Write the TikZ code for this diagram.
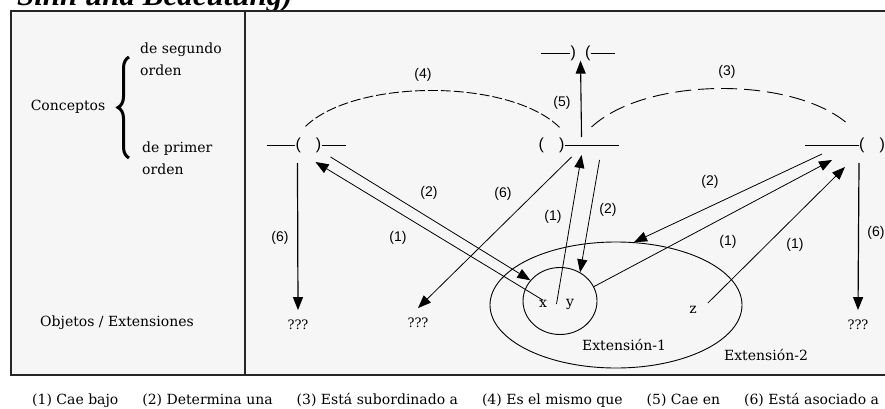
\documentclass[tikz,border=0pt]{standalone}
\usepackage{fontspec}
\setmainfont{DejaVu Serif}
\newfontfamily\labelfont{Liberation Sans}
\newfontfamily\headfont{Liberation Serif}
\usetikzlibrary{arrows.meta, calc, shapes.geometric, decorations.pathreplacing}
\definecolor{panel}{RGB}{246,246,246}

\tikzset{
  txt/.style={inner sep=0pt, font=\fontsize{14}{22}\selectfont},
  num/.style={inner sep=0pt, font=\labelfont\fontsize{14}{16}\selectfont},
  par/.style={inner sep=0pt, font=\labelfont\fontsize{16}{18}\selectfont},
  qm/.style={inner sep=0pt, outer sep=10pt, font=\fontsize{13}{15}\selectfont},
  arr/.style={-{Triangle[length=13pt,width=10pt]}, line width=0.8pt},
  ext/.style={draw, ellipse, inner sep=0pt, line width=0.9pt},
  sameas/.style={line width=0.9pt, dash pattern=on 10pt off 3pt},
  subord/.style={line width=0.9pt, dash pattern=on 16pt off 7pt},
}

\begin{document}
\begin{tikzpicture}[x=1pt, y=-1pt]
  \useasboundingbox (0,0) rectangle (885,409);
  \fill[white] (0,0) rectangle (885,409);
  \node[anchor=base east, inner sep=0pt, font=\headfont\bfseries\itshape\fontsize{31}{34}\selectfont] (title) at (293,6) {Sinn und Bedeutung)};
  \filldraw[fill=panel, draw=black!85, line width=1.3pt] (11,11) rectangle (905,375);
  \draw[black!85, line width=1.3pt] (245,11) -- (245,375);

  % left column
  \node[txt] (concepts) at (68,107) {Conceptos};
  \draw[line width=3pt, decorate, decoration={brace, amplitude=11pt}] (129,158) -- (129,57);
  \node[txt, anchor=west, align=left] (second) at (140,59) {de segundo\\orden};
  \node[txt, anchor=west, align=left] (first) at (142,158) {de primer\\orden};
  \node[txt] (objects) at (117,323) {Objetos / Extensiones};

  % concepts
  \node[par] (A) at (308.5,145) {(\hspace{15pt})};
  \node[par] (B) at (551.5,145) {(\hspace{15pt})};
  \node[par, anchor=west] (C) at (859,145) {(\hspace{15pt})};
  \node[par] (D) at (580.5,53) {)\hspace{9pt}(};
  \draw[line width=0.9pt] (A.west) -- ++(-28,0) (A.east) -- ++(24,0);
  \draw[line width=0.9pt] (B.east) -- ++(54,0);
  \draw[line width=0.9pt] (C.west) -- ++(-54,0);
  \draw[line width=0.9pt] (D.west) -- ++(-29,0) (D.east) -- ++(24,0);

  % extensions
  \node[ext, minimum width=252pt, minimum height=126pt] (ext2) at (616,305) {};
  \node[ext, minimum width=74pt, minimum height=67pt] (ext1) at (560,301) {};
  \node[txt] (x) at (543,304) {x};
  \node[txt] (y) at (570,304) {y};
  \node[txt] (z) at (693,310) {z};
  \node[txt] (ext1label) at (624,345) {Extensión-1};
  \node[txt] (ext2label) at (766,355) {Extensión-2};
  \node[qm] (qA) at (298,325) {???};
  \node[qm] (qB) at (418,323) {???};
  \node[qm] (qC) at (858,325) {???};

  \draw[sameas] ($(A.north)+(-3,-11)$) .. controls +(50,-48) and +(-50,-49) .. ($(B.north)+(8,-10)$);
  \draw[subord] ($(B.east)+(27,-18)$) .. controls +(55,-51) and +(-54,-49) .. ($(C.west)+(-10,-20)$);

  \draw[arr, line width=1.2pt] ($(A.west)+(2,18)$) -- (qA.north);
  \draw[arr, line width=1.2pt] ($(C.west)+(0,18)$) -- (qC.north);
  \draw[arr, line width=1.1pt] ($(B.east)+(17,-8)$) -- (D.south);
  \draw[arr] (x.north) -- ($(A.east)+(-6,17)$);
  \draw[arr] ($(A.east)+(9,12)$) -- (ext1.145);
  \draw[arr] ($(B.east)+(7,12)$) -- (qB.north);
  \draw[arr] ($(x.east)!0.5!(y.west)$) -- ($(B.east)+(17,10)$);
  \draw[arr] ($(B.east)+(35,15)$) -- (ext1.55);
  \draw[arr] ($(C.west)+(-37,9)$) -- (ext2.74);
  \draw[arr] (ext1.23) -- ($(C.west)+(-27,15)$);
  \draw[arr] ($(z.east)+(11,-7)$) -- ($(C.west)+(-14,22)$);

  \node[num] (n4) at (423,75) {(4)};
  \node[num] (n3) at (727,72) {(3)};
  \node[num] (n5) at (562,103) {(5)};
  \node[num] (n6a) at (280,238) {(6)};
  \node[num] (n2a) at (429,193) {(2)};
  \node[num] (n1a) at (398,238) {(1)};
  \node[num] (n6b) at (503,194) {(6)};
  \node[num] (n1b) at (553,217) {(1)};
  \node[num] (n2b) at (608,210) {(2)};
  \node[num] (n2c) at (710,182) {(2)};
  \node[num] (n1c) at (728,242) {(1)};
  \node[num] (n1d) at (795,245) {(1)};
  \node[num] (n6c) at (876,233) {(6)};

  \node[txt, anchor=base west] (legend) at (32,404) {(1) Cae bajo\hspace{24pt}(2) Determina una\hspace{24pt}(3) Está subordinado a\hspace{24pt}(4) Es el mismo que\hspace{24pt}(5) Cae en\hspace{24pt}(6) Está asociado a};
\end{tikzpicture}
\end{document}
